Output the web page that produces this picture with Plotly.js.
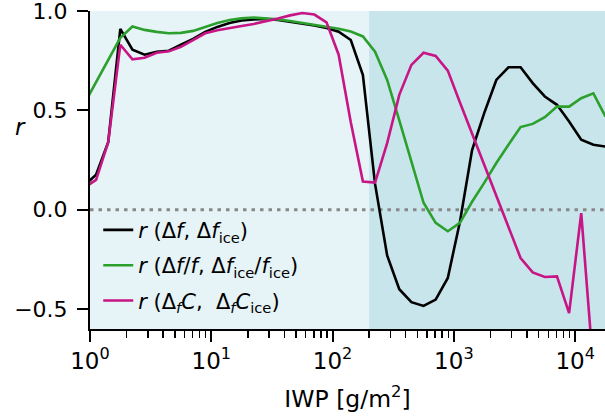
<!DOCTYPE html>
<html>
<head>
<meta charset="utf-8">
<script src="https://cdn.plot.ly/plotly-3.0.1.min.js"></script>
<style>html,body{margin:0;padding:0;background:#fff;}#chart{width:605px;height:420px;}</style>
</head>
<body>
<div id="chart"></div>
<script>
// IWP bin centres [g/m^2]
const iwp = [0.891, 1.122, 1.413, 1.778, 2.239, 2.818, 3.548, 4.467, 5.623, 7.079,
             8.913, 11.22, 14.13, 17.78, 22.39, 28.18, 35.48, 44.67, 56.23, 70.79,
             89.13, 112.2, 141.3, 177.8, 223.9, 281.8, 354.8, 446.7, 562.3, 707.9,
             891.3, 1122, 1413, 1778, 2239, 2818, 3548, 4467, 5623, 7079,
             8913, 11220, 14130, 17780];
// r (Δf, Δf_ice)
const rAbs = [0.12, 0.176, 0.34, 0.91, 0.805, 0.78, 0.795, 0.80, 0.83, 0.86,
              0.895, 0.92, 0.94, 0.952, 0.958, 0.96, 0.955, 0.946, 0.937, 0.927,
              0.915, 0.896, 0.854, 0.678, 0.13, -0.23, -0.40, -0.465, -0.484, -0.452,
              -0.343, -0.06, 0.30, 0.486, 0.653, 0.717, 0.717, 0.637, 0.57, 0.528,
              0.444, 0.352, 0.327, 0.318];
// r (Δf/f, Δf_ice/f_ice)
const rRel = [0.53, 0.64, 0.75, 0.865, 0.922, 0.905, 0.895, 0.888, 0.89, 0.90,
              0.92, 0.94, 0.955, 0.963, 0.967, 0.964, 0.958, 0.95, 0.94, 0.93,
              0.92, 0.911, 0.897, 0.872, 0.795, 0.653, 0.45, 0.245, 0.035, -0.066,
              -0.108, -0.066, 0.04, 0.135, 0.235, 0.327, 0.416, 0.432, 0.466, 0.519,
              0.519, 0.561, 0.586, 0.469];
// r (Δ_f C, Δ_f C_ice)
const rC = [0.11, 0.15, 0.34, 0.83, 0.757, 0.765, 0.79, 0.797, 0.82, 0.855,
            0.888, 0.903, 0.915, 0.925, 0.935, 0.947, 0.962, 0.978, 0.99, 0.982,
            0.943, 0.78, 0.44, 0.142, 0.137, 0.335, 0.578, 0.729, 0.79, 0.774,
            0.70, 0.54, 0.385, 0.23, 0.07, -0.085, -0.243, -0.315, -0.338, -0.335,
            -0.52, -0.017, -0.80, null];

const seriesNames = [
  '<i>r</i> (Δ<i>f</i>, Δ<i>f</i><sub>ice</sub>)',
  '<i>r</i> (Δ<i>f</i>/<i>f</i>, Δ<i>f</i><sub>ice</sub>/<i>f</i><sub>ice</sub>)',
  '<i>r</i> (Δ<sub><i>f</i></sub><i>C</i>,\u00a0 Δ<sub><i>f</i></sub><i>C</i><sub>ice</sub>)'
];
const xTickVals = [1, 10, 100, 1000, 10000];
const xTickText = ['10<sup>0</sup>', '10<sup>1</sup>', '10<sup>2</sup>', '10<sup>3</sup>', '10<sup>4</sup>'];
const xMinorVals = [2,3,4,5,6,7,8,9, 20,30,40,50,60,70,80,90, 200,300,400,500,600,700,800,900,
                    2000,3000,4000,5000,6000,7000,8000,9000];
const yTickVals = [-0.5, 0.0, 0.5, 1.0];
const yTickText = ['\u22120.5', '0.0', '0.5', '1.0'];
const iceThreshold = 200;   // g/m^2, boundary of shaded regimes
const xRangeLog = [0, 4.246];
const yRange = [-0.6, 1.0];

const FONT = 'DejaVu Sans, sans-serif';
const colors = ['#000000', '#2ca02c', '#c71585'];
const ys = [rAbs, rRel, rC];

const traces = ys.map((y, i) => ({
  x: iwp, y: y, type: 'scatter', mode: 'lines', name: seriesNames[i],
  legendgroup: 'g' + i,
  line: {color: colors[i], width: 2.6},
  connectgaps: false, hoverinfo: 'skip'
}));

const splitFrac = Math.log10(iceThreshold) / xRangeLog[1];

const layout = {
  width: 605, height: 420,
  margin: {l: 90, r: 0, t: 11, b: 91, pad: 0},
  paper_bgcolor: '#ffffff',
  plot_bgcolor: '#e6f3f7',
  font: {family: FONT, size: 22, color: '#000'},
  showlegend: true,
  legend: {
    x: 0.016, y: 0.375, xanchor: 'left', yanchor: 'top',
    bgcolor: 'rgba(0,0,0,0)', borderwidth: 0,
    font: {family: FONT, size: 21, color: '#000'},
    tracegroupgap: 5
  },
  xaxis: {
    type: 'log', range: xRangeLog,
    tickmode: 'array', tickvals: xTickVals, ticktext: xTickText,
    ticks: 'outside', ticklen: 11, tickwidth: 2, tickcolor: '#000',
    ticklabelstandoff: -1, ticklabeloverflow: 'allow',
    showline: true, linewidth: 2, linecolor: '#000', mirror: false,
    showgrid: false, zeroline: false,
    tickfont: {family: FONT, size: 23},
    minor: {tickmode: 'array', tickvals: xMinorVals, ticks: 'outside', ticklen: 6.5, tickwidth: 1.5, tickcolor: '#000', showgrid: false},
    title: {text: 'IWP [g/m<sup>2</sup>]', font: {family: FONT, size: 23.5}, standoff: 18}
  },
  yaxis: {
    range: yRange,
    tickmode: 'array', tickvals: yTickVals, ticktext: yTickText,
    ticks: 'outside', ticklen: 11, tickwidth: 2, tickcolor: '#000',
    ticklabelstandoff: 5, ticklabeloverflow: 'allow',
    showline: true, linewidth: 2, linecolor: '#000', mirror: false,
    showgrid: false, zeroline: false,
    tickfont: {family: FONT, size: 22}
  },
  shapes: [
    {type: 'rect', xref: 'paper', yref: 'paper', x0: splitFrac, x1: 1, y0: 0, y1: 1,
     fillcolor: '#c9e5ec', line: {width: 0}, layer: 'below'},
    {type: 'line', xref: 'paper', yref: 'y', x0: 0, x1: 1, y0: 0, y1: 0,
     line: {color: '#888888', width: 3, dash: '3.5px,5px'}, layer: 'below'}
  ],
  annotations: [
    {text: '<i>r</i>', xref: 'paper', yref: 'paper', x: -0.135, y: 0.636,
     xanchor: 'center', yanchor: 'middle', showarrow: false,
     font: {family: FONT, size: 23, color: '#000'}}
  ]
};

Plotly.newPlot('chart', traces, layout, {staticPlot: true, displayModeBar: false});
</script>
</body>
</html>
